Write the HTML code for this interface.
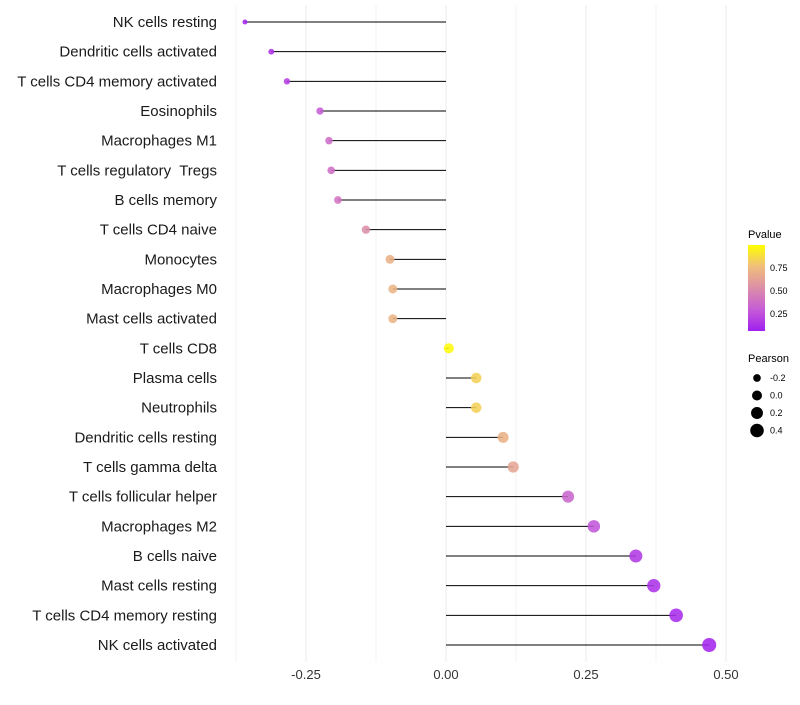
<!DOCTYPE html>
<html><head><meta charset="utf-8"><style>
body{margin:0;background:#fff;font-family:"Liberation Sans",Arial,sans-serif}
text{white-space:pre}
</style></head><body>
<svg id="chart" width="800" height="700" xmlns="http://www.w3.org/2000/svg">
<defs><linearGradient id="pg" x1="0" y1="1" x2="0" y2="0">
<stop offset="0" stop-color="#a020f0"/><stop offset="0.25" stop-color="#c65cd6"/><stop offset="0.5" stop-color="#dc8ea8"/><stop offset="0.75" stop-color="#efbe7c"/><stop offset="1" stop-color="#ffff00"/>
</linearGradient></defs>
<g id="grid"></g><g id="marks"></g><g id="labels"></g>
<g id="legend">
<text x="748" y="238" font-size="11" fill="#000">Pvalue</text>
<rect x="748" y="245" width="17" height="86" fill="url(#pg)"/>
<text x="770" y="271" font-size="9">0.75</text><text x="770" y="294" font-size="9">0.50</text><text x="770" y="317" font-size="9">0.25</text>
<text x="748" y="362" font-size="11">Pearson</text>
</g>
</svg>
<script>
const categories=["NK cells resting","Dendritic cells activated","T cells CD4 memory activated","Eosinophils","Macrophages M1","T cells regulatory  Tregs","B cells memory","T cells CD4 naive","Monocytes","Macrophages M0","Mast cells activated","T cells CD8","Plasma cells","Neutrophils","Dendritic cells resting","T cells gamma delta","T cells follicular helper","Macrophages M2","B cells naive","Mast cells resting","T cells CD4 memory resting","NK cells activated"];
const pearson=[-0.359,-0.312,-0.284,-0.225,-0.209,-0.205,-0.193,-0.143,-0.1,-0.095,-0.095,0.005,0.054,0.054,0.102,0.12,0.218,0.264,0.339,0.371,0.411,0.47];
const pvalue=[0.03,0.09,0.13,0.25,0.33,0.34,0.37,0.5,0.68,0.7,0.7,0.98,0.82,0.82,0.68,0.62,0.3,0.22,0.11,0.08,0.05,0.02];
const xTicks=[-0.25,0,0.25,0.5];
const xTickLabels=["-0.25","0.00","0.25","0.50"];
const sizeLegend=[-0.2,0,0.2,0.4];
const NS="http://www.w3.org/2000/svg";
const x=v=>446+v*560;
const y=i=>22+i*(623/21);
const r=v=>Math.sqrt(Math.max(2,25+52*v));
const stops=[[0,[160,32,240]],[0.25,[198,92,214]],[0.5,[220,142,168]],[0.75,[239,190,124]],[1,[255,255,0]]];
function col(p){for(let k=0;k<stops.length-1;k++){const[a,ca]=stops[k],[b,cb]=stops[k+1];if(p<=b){const t=(p-a)/(b-a);return`rgb(${ca.map((c,j)=>Math.round(c+(cb[j]-c)*t)).join(",")})`;}}return"rgb(255,255,0)";}
function mk(tag,attrs,parent){const e=document.createElementNS(NS,tag);for(const k in attrs)e.setAttribute(k,attrs[k]);document.getElementById(parent).appendChild(e);return e;}
for(let v=-0.375;v<=0.55;v+=0.125){const l=mk("line",{x1:x(v),x2:x(v),y1:5,y2:662,stroke:"#ebebeb","stroke-width":Math.abs((v*4)%1)<1e-6?1:0.6},"grid");

}
xTicks.forEach((v,i)=>{const t=mk("text",{x:x(v),y:679,"font-size":13,"text-anchor":"middle",fill:"#333"},"labels");t.textContent=xTickLabels[i];

});
categories.forEach((c,i)=>{
const t=mk("text",{x:217,y:y(i)+5,"font-size":15,"text-anchor":"end",fill:"#1a1a1a"},"labels");t.textContent=c;


const l=mk("line",{x1:x(0),x2:x(pearson[i]),y1:y(i),y2:y(i),stroke:"#000","stroke-width":1},"marks");


const d=mk("circle",{cx:x(pearson[i]),cy:y(i),r:r(pearson[i]),fill:col(pvalue[i]),"fill-opacity":0.88},"marks");


});
sizeLegend.forEach((v,i)=>{const cy=378+i*17.5;
const d=mk("circle",{cx:757,cy:cy,r:r(v),fill:"#000"},"legend");


const t=mk("text",{x:770,y:cy+3,"font-size":9},"legend");t.textContent=v.toFixed(1);

});
</script>
</body></html>
